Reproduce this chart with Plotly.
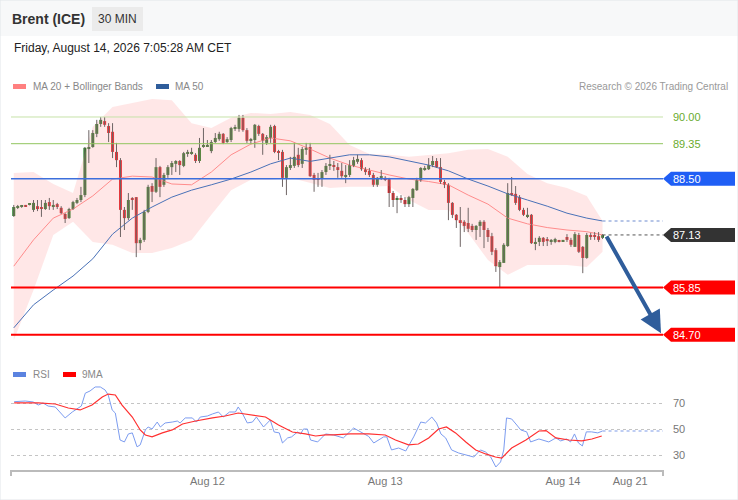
import plotly.graph_objects as go

# Brent (ICE) 30 min candles (oldest -> newest)
opens = [
    87.59, 87.79, 87.81, 87.85, 87.86, 87.74, 87.83, 87.79, 87.76, 87.93,
    87.83, 87.88, 87.79, 87.64, 87.54, 87.76, 87.91, 87.98, 88.10, 89.22,
    89.27, 89.59, 89.83, 89.90, 89.78, 89.64, 89.15, 88.95, 87.74, 87.54,
    88.03, 88.05, 86.93, 87.01, 87.69, 88.32, 88.18, 88.78, 88.35, 88.59,
    88.78, 88.86, 88.93, 88.81, 89.12, 89.12, 89.08, 88.93, 89.27, 89.29,
    89.17, 89.39, 89.46, 89.59, 89.39, 89.44, 89.71, 89.71, 89.98, 89.68,
    89.42, 89.44, 89.78, 89.59, 89.37, 89.49, 89.78, 89.15, 89.15, 88.52,
    88.76, 88.81, 89.08, 88.86, 89.20, 89.27, 88.59, 88.49, 88.49, 88.66,
    88.81, 88.81, 88.78, 88.69, 88.56, 88.59, 88.81, 88.91, 88.95, 88.73,
    88.69, 88.59, 88.35, 88.52, 88.52, 88.49, 88.15, 88.00, 88.03, 87.98,
    87.88, 88.03, 88.22, 88.47, 88.73, 88.73, 88.83, 88.93, 88.78, 88.42,
    88.35, 87.91, 87.62, 87.49, 87.45, 87.42, 87.35, 87.25, 87.35, 87.45,
    87.25, 87.10, 86.76, 86.35, 86.45, 86.86, 88.15, 88.13, 88.05, 87.74,
    87.59, 87.62, 86.93, 86.96, 87.06, 87.03, 86.98, 86.96, 86.98, 86.98,
    87.08, 87.01, 86.84, 87.13, 86.84, 86.57, 87.13, 87.13, 87.10, 87.06,
]
highs = [
    87.86, 87.86, 87.86, 87.86, 87.89, 87.98, 87.98, 87.98, 87.98, 88.03,
    87.98, 87.91, 87.83, 87.66, 87.79, 87.96, 88.03, 88.30, 89.27, 89.68,
    89.68, 89.93, 90.00, 90.00, 89.85, 89.85, 89.37, 89.00, 87.81, 88.15,
    88.05, 88.05, 87.06, 87.74, 88.35, 88.39, 89.00, 88.81, 88.64, 88.83,
    88.93, 88.95, 88.95, 89.15, 89.20, 89.25, 89.12, 89.49, 89.73, 89.44,
    89.44, 89.61, 89.64, 89.61, 89.51, 89.76, 89.81, 90.05, 90.05, 89.73,
    89.49, 89.83, 89.81, 89.61, 89.56, 89.81, 89.81, 89.20, 89.20, 88.83,
    89.03, 89.37, 89.25, 89.27, 89.37, 89.37, 88.64, 88.64, 88.71, 88.88,
    89.08, 88.93, 88.88, 88.88, 88.83, 88.95, 89.03, 89.08, 89.00, 88.78,
    88.76, 88.64, 88.54, 88.71, 88.56, 88.52, 88.20, 88.08, 88.10, 88.05,
    88.08, 88.27, 88.52, 88.78, 88.81, 89.00, 89.05, 89.00, 89.00, 88.47,
    88.39, 87.93, 87.64, 87.81, 87.49, 87.79, 87.40, 87.37, 87.49, 87.49,
    87.30, 87.18, 86.81, 86.52, 86.93, 88.39, 88.54, 88.32, 88.10, 87.79,
    87.79, 87.64, 87.06, 87.10, 87.08, 87.08, 87.03, 87.06, 87.01, 87.00,
    87.15, 87.06, 87.20, 87.18, 86.86, 87.18, 87.18, 87.20, 87.20, 87.15,
]
lows = [
    87.57, 87.76, 87.79, 87.81, 87.85, 87.69, 87.71, 87.57, 87.74, 87.74,
    87.74, 87.76, 87.64, 87.42, 87.52, 87.74, 87.88, 87.93, 88.05, 88.88,
    89.25, 89.51, 89.76, 89.76, 89.39, 89.00, 88.78, 87.08, 87.25, 87.49,
    87.74, 86.59, 86.76, 86.96, 87.66, 87.93, 88.15, 88.05, 88.30, 88.52,
    88.59, 88.66, 88.59, 88.78, 89.03, 89.08, 88.88, 88.88, 89.25, 89.27,
    89.12, 89.37, 89.42, 89.34, 89.37, 89.39, 89.66, 89.64, 89.64, 89.37,
    89.34, 89.25, 89.54, 89.08, 89.32, 89.37, 89.12, 88.95, 88.30, 88.10,
    88.71, 88.76, 88.78, 88.76, 89.08, 88.54, 88.18, 88.30, 88.30, 88.59,
    88.71, 88.69, 88.52, 88.52, 88.39, 88.54, 88.78, 88.86, 88.69, 88.59,
    88.54, 88.30, 88.30, 88.47, 88.44, 87.81, 87.81, 87.66, 87.91, 87.81,
    87.81, 87.81, 88.20, 88.42, 88.69, 88.71, 88.78, 88.76, 88.37, 88.27,
    87.49, 87.54, 87.30, 86.84, 87.20, 87.20, 87.20, 87.01, 87.08, 86.81,
    86.96, 86.64, 86.23, 85.86, 86.45, 86.84, 88.08, 87.86, 87.71, 87.59,
    87.54, 86.91, 86.76, 86.86, 86.86, 86.86, 86.89, 86.93, 86.95, 86.96,
    86.96, 86.84, 86.84, 86.69, 86.20, 86.55, 87.01, 87.01, 86.96, 87.03,
]
closes = [
    87.81, 87.83, 87.85, 87.83, 87.87, 87.91, 87.76, 87.78, 87.91, 87.83,
    87.86, 87.81, 87.66, 87.52, 87.76, 87.93, 87.98, 88.10, 89.25, 89.27,
    89.61, 89.83, 89.93, 89.81, 89.61, 89.15, 88.95, 87.74, 87.54, 87.98,
    88.00, 86.93, 87.01, 87.69, 88.30, 88.18, 88.78, 88.30, 88.59, 88.78,
    88.88, 88.93, 88.83, 89.12, 89.13, 89.15, 88.93, 89.25, 89.29, 89.32,
    89.39, 89.49, 89.59, 89.37, 89.46, 89.73, 89.73, 89.98, 89.68, 89.42,
    89.44, 89.81, 89.59, 89.42, 89.51, 89.76, 89.15, 89.13, 88.52, 88.78,
    88.83, 89.03, 88.83, 89.22, 89.25, 88.56, 88.47, 88.48, 88.66, 88.81,
    88.82, 88.79, 88.71, 88.56, 88.59, 88.83, 88.95, 88.98, 88.73, 88.66,
    88.59, 88.35, 88.52, 88.53, 88.49, 88.15, 87.98, 88.03, 87.98, 87.88,
    88.05, 88.25, 88.47, 88.76, 88.76, 88.83, 88.93, 88.78, 88.42, 88.35,
    87.91, 87.62, 87.49, 87.42, 87.35, 87.28, 87.25, 87.35, 87.45, 87.25,
    87.08, 86.72, 86.37, 86.47, 86.89, 88.15, 88.10, 87.91, 87.74, 87.62,
    87.62, 86.93, 86.96, 87.06, 86.96, 86.98, 86.99, 87.03, 86.97, 86.99,
    87.01, 86.89, 87.15, 86.72, 86.57, 87.13, 87.10, 87.08, 87.01, 87.13,
]

# indicator readings, sampled every 5 candles
ma_idx = [0, 5, 10, 15, 20, 25, 30, 35, 40, 45, 50, 55, 60, 65, 70, 75,
          80, 85, 90, 95, 100, 105, 110, 115, 120, 125, 130, 135, 140, 145, 149]
ma20 = [86.37, 87.01, 87.54, 87.76, 88.08, 88.49, 88.56, 88.54, 88.37, 88.35,
        88.66, 89.08, 89.34, 89.49, 89.42, 89.22, 89.00, 88.83, 88.71, 88.59,
        88.49, 88.43, 88.35, 88.10, 87.88, 87.54, 87.40, 87.31, 87.25, 87.21, 87.13]
bb_upper = [88.64, 88.66, 88.37, 88.15, 89.76, 90.24, 90.34, 90.44, 90.41, 89.85,
            89.73, 89.98, 90.10, 90.07, 90.12, 90.05, 89.83, 89.32, 89.10, 89.08,
            89.03, 89.08, 89.12, 89.20, 89.22, 89.03, 88.61, 88.39, 88.27, 88.08, 87.47]
bb_lower = [84.57, 85.79, 87.13, 87.45, 86.96, 86.89, 86.69, 86.69, 86.81, 87.01,
            87.62, 88.22, 88.47, 88.47, 88.52, 88.39, 88.27, 88.30, 88.30, 88.32,
            87.98, 87.74, 87.74, 87.18, 86.52, 86.16, 86.40, 86.40, 86.40, 86.35, 86.72]
ma50 = [84.87, 85.43, 85.79, 86.13, 86.55, 87.15, 87.54, 87.81, 88.05, 88.22,
        88.35, 88.49, 88.66, 88.86, 89.00, 88.92, 89.00, 89.08, 89.08, 89.03,
        88.93, 88.83, 88.69, 88.49, 88.32, 88.13, 87.98, 87.83, 87.66, 87.54, 87.47]

# RSI and its 9 period average (x = candle index)
rsi_x = [0.1, 2.9, 4.9, 6.2, 7.4, 8.7, 10.5, 11.7, 13.0, 14.8, 16.3, 17.1, 18.1, 19.3,
         20.6, 21.9, 23.1, 23.9, 24.9, 25.7, 26.9, 28.0, 29.0, 30.0, 31.2, 32.0, 33.3,
         34.0, 35.0, 36.3, 37.1, 38.3, 40.1, 41.4, 42.1, 43.4, 45.2, 46.2, 47.2, 49.0,
         50.3, 51.8, 53.0, 54.6, 56.1, 56.8, 57.8, 59.1, 60.4, 61.4, 63.2, 64.9, 65.9,
         67.2, 68.0, 69.3, 70.3, 71.8, 72.6, 73.3, 74.3, 75.1, 76.9, 78.9, 80.9, 83.4,
         86.0, 87.8, 89.8, 91.1, 93.6, 94.4, 95.6, 97.4, 99.2, 101.2, 103.0, 104.2,
         105.8, 107.0, 108.1, 109.3, 110.8, 112.6, 115.1, 116.4, 118.1, 119.4, 120.7,
         122.0, 123.2, 124.0, 124.7, 126.0, 127.3, 128.3, 129.8, 130.8, 132.9, 135.4,
         137.2, 138.4, 139.9, 140.9, 141.9, 142.9, 143.9, 144.9, 146.2, 147.8, 149.0]
rsi = [71.4, 71.9, 71.2, 68.8, 70.4, 68.0, 67.3, 63.4, 58.8, 63.4, 66.5, 68.0, 78.0, 79.7,
       82.8, 82.8, 80.5, 76.6, 65.0, 62.6, 41.7, 40.2, 46.4, 47.2, 36.4, 37.9, 49.5,
       51.8, 50.2, 55.6, 51.8, 54.9, 55.6, 56.4, 54.9, 58.8, 58.8, 55.6, 59.5, 60.3,
       61.9, 63.4, 59.5, 63.4, 63.4, 67.3, 62.6, 54.9, 55.6, 59.5, 51.8, 57.2, 47.9,
       47.2, 39.4, 43.3, 44.1, 47.9, 46.4, 50.2, 50.2, 41.7, 40.2, 46.4, 45.6, 43.3,
       51.0, 48.0, 44.5, 39.4, 44.1, 44.1, 34.0, 35.5, 33.2, 44.1, 55.6, 54.9,
       59.5, 54.9, 46.4, 43.3, 34.0, 31.6, 29.3, 28.5, 34.0, 32.4, 28.5,
       20.8, 24.7, 34.0, 58.8, 58.0, 53.3, 49.5, 48.0, 40.2, 42.5, 40.2,
       43.3, 41.0, 42.5, 40.2, 46.4, 39.4, 37.1, 48.0, 48.0, 47.2, 48.7]
rsi_ma_x = [0.1, 6.2, 10.5, 13.8, 16.8, 19.8, 22.4, 23.9, 25.7, 27.4, 30.0, 32.0, 33.3,
            35.0, 37.6, 40.1, 42.7, 46.0, 50.3, 53.5, 56.8, 60.4, 63.7, 67.0, 70.5, 73.8,
            76.4, 78.9, 80.9, 85.2, 89.8, 94.0, 96.6, 99.9, 102.4, 105.0, 107.5, 109.5,
            111.8, 114.4, 116.9, 119.4, 121.9, 123.5, 126.0, 129.6, 132.9, 134.7, 137.2,
            140.5, 143.8, 146.3, 148.8]
rsi_ma = [70.4, 70.4, 69.6, 66.5, 65.0, 68.8, 75.0, 77.3, 76.6, 68.8, 59.5, 49.5, 45.6,
          44.1, 47.2, 49.5, 54.1, 56.4, 58.8, 60.3, 62.6, 61.1, 59.5, 53.3, 47.9, 46.4,
          44.8, 45.6, 45.6, 46.4, 46.4, 45.6, 41.7, 37.9, 38.6, 43.3, 50.2, 51.8,
          47.2, 40.2, 34.0, 30.9, 28.5, 27.7, 35.5, 41.7, 48.7, 49.0, 43.3,
          41.7, 41.0, 42.5, 44.8]

# key levels
resistances = [90.00, 89.35]
pivot = 88.50
last_price = 87.13
supports = [85.85, 84.70]
target_idx, target_price = 163.8, 84.74

tick_vals = [49, 94, 139, 156]
tick_text = ["Aug 12", "Aug 13", "Aug 14", "Aug 21"]

W, H = 738, 500
X_RANGE = [-0.7, 164.3]
FONT = "Liberation Sans, Arial, sans-serif"
GREEN, RED = "#1e7b1e", "#e3151a"


def px(x):
    return x / W


def py(y):
    return 1 - y / H


n = len(closes)
idx = list(range(n))
last = n - 1

fig = go.Figure()

# bollinger band fill + lines
fig.add_trace(go.Scatter(x=ma_idx, y=bb_upper, mode="lines", line=dict(width=0, color="rgba(0,0,0,0)"),
                         hoverinfo="skip"))
fig.add_trace(go.Scatter(x=ma_idx, y=bb_lower, mode="lines", line=dict(width=0, color="rgba(0,0,0,0)"),
                         fill="tonexty", fillcolor="rgba(255,160,160,0.25)", hoverinfo="skip"))
fig.add_trace(go.Scatter(x=ma_idx, y=ma20, mode="lines", line=dict(color="#ff8c8c", width=1)))
fig.add_trace(go.Scatter(x=ma_idx, y=ma50, mode="lines", line=dict(color="#4a72b8", width=1)))
fig.add_trace(go.Scatter(x=[last, X_RANGE[1]], y=[ma50[-1], ma50[-1]], mode="lines",
                         line=dict(color="#9fb3e0", width=1.5, dash="dot")))
fig.add_trace(go.Scatter(x=[last, X_RANGE[1]], y=[last_price, last_price], mode="lines",
                         line=dict(color="#555555", width=1, dash="dot")))

# wicks
wx, wy = [], []
for i in idx:
    wx += [i, i, None]
    wy += [lows[i], highs[i], None]
fig.add_trace(go.Scatter(x=wx, y=wy, mode="lines", line=dict(color="#6e6464", width=1), hoverinfo="skip"))

# bodies
base = [min(o, c) for o, c in zip(opens, closes)]
height = [max(abs(c - o), 0.03) for o, c in zip(opens, closes)]
colors = [GREEN if c >= o else RED for o, c in zip(opens, closes)]
fig.add_trace(go.Bar(x=idx, y=height, base=base, width=0.75, marker=dict(color=colors, line=dict(width=0))))

# RSI panel
fig.add_trace(go.Scatter(x=rsi_x, y=rsi, mode="lines", line=dict(color="#7c9cf0", width=1),
                         xaxis="x2", yaxis="y2"))
fig.add_trace(go.Scatter(x=rsi_ma_x, y=rsi_ma, mode="lines", line=dict(color="#ff3030", width=1.2),
                         xaxis="x2", yaxis="y2"))
fig.add_trace(go.Scatter(x=[last, X_RANGE[1]], y=[rsi[-1], rsi[-1]], mode="lines",
                         line=dict(color="#a9bdf0", width=1.5, dash="dot"), xaxis="x2", yaxis="y2"))

# big projection arrow
ann = [dict(x=target_idx, y=target_price, ax=last + 0.8, ay=last_price, xref="x", yref="y",
            axref="x", ayref="y", showarrow=True, arrowhead=2, arrowsize=1.1, arrowwidth=4,
            arrowcolor="#2f5d9b", text="", standoff=0, startstandoff=0)]

shapes = [
    dict(type="rect", xref="paper", yref="paper", x0=0, x1=1, y0=py(36), y1=1,
         fillcolor="#f7f8f9", line=dict(width=0), layer="below"),
    dict(type="rect", xref="paper", yref="paper", x0=px(92), x1=px(143), y0=py(31), y1=py(7),
         fillcolor="#ebebeb", line=dict(width=0), layer="below"),
    dict(type="rect", xref="paper", yref="paper", x0=0, x1=1, y0=0, y1=1,
         line=dict(color="#e2e5e9", width=1)),
    # legend swatches
    dict(type="rect", xref="paper", yref="paper", x0=px(13), x1=px(26), y0=py(89), y1=py(84),
         fillcolor="#ff8080", line=dict(width=0)),
    dict(type="rect", xref="paper", yref="paper", x0=px(156), x1=px(169), y0=py(89), y1=py(84),
         fillcolor="#2f5d9b", line=dict(width=0)),
    dict(type="rect", xref="paper", yref="paper", x0=px(13), x1=px(26), y0=py(377), y1=py(372),
         fillcolor="#5b83e0", line=dict(width=0)),
    dict(type="rect", xref="paper", yref="paper", x0=px(63), x1=px(76), y0=py(377), y1=py(372),
         fillcolor="#ff0000", line=dict(width=0)),
    # axis end ticks
    dict(type="line", xref="paper", yref="paper", x0=px(11), x1=px(11), y0=py(470), y1=py(476),
         line=dict(color="#bbbbbb", width=2)),
    dict(type="line", xref="paper", yref="paper", x0=px(663), x1=px(663), y0=py(470), y1=py(476),
         line=dict(color="#bbbbbb", width=2)),
]

level_style = [(resistances[0], "#c6e2a8", 1), (resistances[1], "#92c65f", 1),
               (pivot, "#3c6fdc", 1.5), (supports[0], "#ff0000", 2), (supports[1], "#ff0000", 2)]
for lv, col, w in level_style:
    shapes.append(dict(type="line", xref="paper", yref="y", x0=px(11), x1=px(663), y0=lv, y1=lv,
                       line=dict(color=col, width=w)))

for lv in resistances:
    ann.append(dict(x=px(671), y=lv, xref="paper", yref="y", text=f"{lv:.2f}", showarrow=False,
                    xanchor="left", yanchor="middle", font=dict(family=FONT, size=11, color="#6aab2e")))

half = 7 / 41.1
for lv, col in [(pivot, "#1f5ef5"), (last_price, "#333333"), (supports[0], "#ff0000"), (supports[1], "#ff0000")]:
    path = (f"M {px(663)},{lv} L {px(671)},{lv + half} L {px(735)},{lv + half} "
            f"L {px(735)},{lv - half} L {px(671)},{lv - half} Z")
    shapes.append(dict(type="path", xref="paper", yref="y", path=path, fillcolor=col, line=dict(width=0)))
    ann.append(dict(x=px(671), y=lv, xref="paper", yref="y", text=f"{lv:.2f}", showarrow=False,
                    xanchor="left", yanchor="middle", font=dict(family=FONT, size=11, color="white")))

for v in [70, 50, 30]:
    ann.append(dict(x=px(671), y=v, xref="paper", yref="y2", text=str(v), showarrow=False,
                    xanchor="left", yanchor="middle", font=dict(family=FONT, size=11, color="#777777")))

texts = [
    ("<b>Brent (ICE)</b>", 10, 18.5, "left", 14, "#333333"),
    ("30 MIN", 117.5, 19, "center", 12, "#333333"),
    ("Friday, August 14, 2026 7:05:28 AM CET", 12, 48, "left", 12, "#222222"),
    ("MA 20 + Bollinger Bands", 31, 86.5, "left", 10, "#888888"),
    ("MA 50", 173, 86.5, "left", 10, "#888888"),
    ("Research © 2026 Trading Central", 730, 86.5, "right", 10, "#999999"),
    ("RSI", 31, 374.5, "left", 10, "#888888"),
    ("9MA", 80, 374.5, "left", 10, "#888888"),
]
for t, x, y, anchor, size, col in texts:
    ann.append(dict(x=px(x), y=py(y), xref="paper", yref="paper", text=t, showarrow=False,
                    xanchor=anchor, yanchor="middle", font=dict(family=FONT, size=size, color=col)))

fig.update_layout(
    width=W, height=H, margin=dict(l=0, r=0, t=0, b=0),
    paper_bgcolor="white", plot_bgcolor="rgba(0,0,0,0)",
    showlegend=False, barmode="overlay", font=dict(family=FONT),
    xaxis=dict(domain=[px(11), px(663)], range=X_RANGE, visible=False, anchor="y"),
    yaxis=dict(domain=[py(355), py(95)], range=[84.209, 90.535], visible=False, anchor="x"),
    xaxis2=dict(domain=[px(11), px(663)], range=X_RANGE, anchor="y2", showline=True,
                linecolor="#bbbbbb", linewidth=2, showgrid=False, zeroline=False, ticks="",
                tickvals=tick_vals, ticktext=tick_text,
                tickfont=dict(family=FONT, size=11, color="#777777")),
    yaxis2=dict(domain=[py(470), py(380)], range=[18.45, 88.2], anchor="x2", tickvals=[30, 50, 70],
                showticklabels=False, showgrid=True, gridcolor="#c4c4c4", griddash="dot",
                zeroline=False, showline=False),
    shapes=shapes, annotations=ann,
)

# the page's default body margin would push the chart off its origin
fig.write_html("out.html", config={"displayModeBar": False},
               post_script="document.body.style.margin='0';")
